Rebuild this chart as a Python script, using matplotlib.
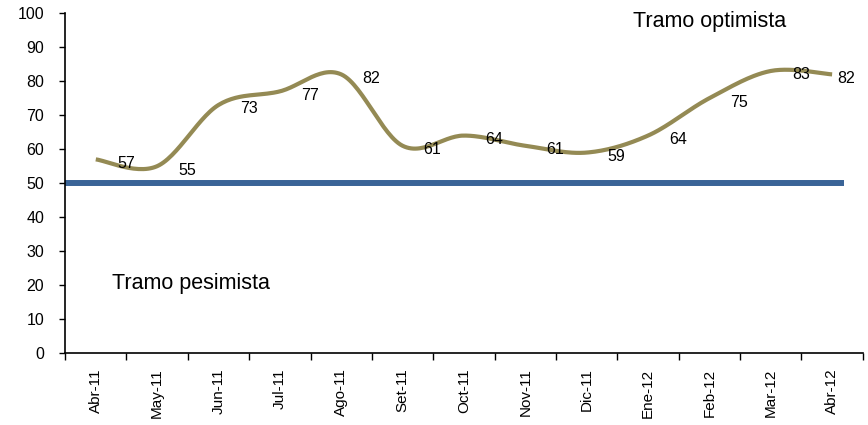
import numpy as np
import matplotlib
matplotlib.use("Agg")
import matplotlib.pyplot as plt

plt.rcParams['font.family'] = ['Liberation Sans', 'DejaVu Sans']

# monthly index values
months = ['Abr-11', 'May-11', 'Jun-11', 'Jul-11', 'Ago-11', 'Set-11', 'Oct-11',
          'Nov-11', 'Dic-11', 'Ene-12', 'Feb-12', 'Mar-12', 'Abr-12']
values = [57, 55, 73, 77, 82, 61, 64, 61, 59, 64, 75, 83, 82]
threshold = 50

LINE_COLOR = '#948A54'
BAR_COLOR = '#3A6497'


def smooth_curve(x, y, steps=30):
    # catmull-rom spline through the points (like the Excel smoothed line)
    x = np.asarray(x, float)
    y = np.asarray(y, float)
    px = np.concatenate([[x[0]], x, [x[-1]]])
    py = np.concatenate([[y[0]], y, [y[-1]]])
    xs, ys = [], []
    t = np.linspace(0, 1, steps)
    for i in range(1, len(px) - 2):
        for p, out in ((px, xs), (py, ys)):
            p0, p1, p2, p3 = p[i - 1], p[i], p[i + 1], p[i + 2]
            out.extend(0.5 * (2 * p1 + (-p0 + p2) * t
                              + (2 * p0 - 5 * p1 + 4 * p2 - p3) * t ** 2
                              + (-p0 + 3 * p1 - 3 * p2 + p3) * t ** 3))
    return np.array(xs), np.array(ys)


fig = plt.figure(figsize=(8.68, 4.25), dpi=100)
ax = fig.add_axes([0.075, 0.169, 0.919, 0.8])

pos = np.arange(len(months))
sx, sy = smooth_curve(pos, values)
ax.plot(sx, sy, color=LINE_COLOR, lw=3, solid_capstyle='butt', zorder=3)

ax.plot([-0.5, 12.2], [threshold, threshold], color=BAR_COLOR, lw=4.3,
        solid_capstyle='butt', zorder=2)

for xi, v in zip(pos, values):
    ax.annotate(str(v), (xi, v), xytext=(30 if xi < 12 else 14, -4),
                textcoords='offset pixels', ha='center', va='center',
                fontsize=11.5, zorder=4)

ax.text(10.0, 97.5, 'Tramo optimista', ha='center', va='center', fontsize=15.5)
ax.text(1.55, 20.5, 'Tramo pesimista', ha='center', va='center', fontsize=15.5)

ax.set_xlim(-0.5, 12.5)
ax.set_ylim(0, 100)
ax.set_yticks(np.arange(0, 101, 10))
ax.set_xticks(pos)
ax.set_xticklabels(months, rotation=90, fontsize=11)
ax.set_xticks(np.arange(-0.5, 13, 1), minor=True)
ax.tick_params(axis='x', which='major', length=0, pad=11)
ax.tick_params(axis='x', which='minor', length=5, direction='out', width=1)
ax.tick_params(axis='y', length=4, width=1, labelsize=11.5, pad=11)

for s in ('top', 'right'):
    ax.spines[s].set_visible(False)
for s in ('left', 'bottom'):
    ax.spines[s].set_linewidth(1.2)

fig.savefig('out.png', dpi=100)
